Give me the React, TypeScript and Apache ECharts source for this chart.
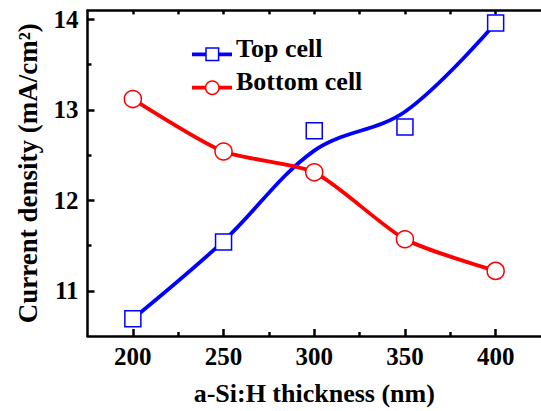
import React, { useEffect, useRef } from "react";
import * as echarts from "echarts";

const thickness = [200, 250, 300, 350, 400];
const topCell = [10.69, 11.54, 12.77, 12.81, 13.96];
const bottomCell = [13.12, 12.54, 12.31, 11.57, 11.22];
const topCellFit = [10.69, 11.55, 12.55, 12.98, 13.96];
const bottomCellFit = [13.12, 12.54, 12.31, 11.57, 11.22];
const xMajorTicks = [200, 250, 300, 350, 400];
const xMinorTicks = [225, 275, 325, 375];
const yMajorTicks = [11, 12, 13, 14];
const yMinorTicks = [11.5, 12.5, 13.5];

const FONT = "'Liberation Serif', 'Times New Roman', serif";
const BLUE = "#0000ff";
const RED = "#ff0000";

export default function App() {
  const ref = useRef<HTMLDivElement>(null);
  useEffect(() => {
    if (!ref.current) return;
    const chart = echarts.init(ref.current, undefined, { renderer: "svg" });
    const pair = (ys: number[]) => thickness.map((x, i) => [x, ys[i]]);
    const axisLine = { show: true, lineStyle: { color: "#000", width: 2.5 } };
    const labelStyle = {
      fontFamily: FONT,
      fontWeight: "bold" as const,
      fontSize: 25,
      color: "#000",
    };
    chart.setOption({
      animation: false,
      grid: { left: 87.5, top: 10.4, width: 454.6, height: 328.2, containLabel: false },
      xAxis: [
        {
          type: "value",
          position: "bottom",
          min: 175,
          max: 425,
          axisLine,
          axisTick: { show: true, inside: true, length: 7, customValues: xMajorTicks, lineStyle: { width: 2.5, color: "#000" } },
          axisLabel: { ...labelStyle, customValues: xMajorTicks, margin: 8 },
          splitLine: { show: false },
          name: "a-Si:H thickness (nm)",
          nameLocation: "middle",
          nameGap: 44,
          nameTextStyle: { ...labelStyle, fontSize: 26 },
        },
        {
          type: "value",
          position: "bottom",
          min: 175,
          max: 425,
          axisLine: { show: false },
          axisTick: { show: true, inside: true, length: 4, customValues: xMinorTicks, lineStyle: { width: 2.5, color: "#000" } },
          axisLabel: { show: false },
          splitLine: { show: false },
        },
        {
          type: "value",
          position: "top",
          min: 175,
          max: 425,
          axisLine,
          axisTick: { show: true, inside: true, length: 4, customValues: [...xMajorTicks, ...xMinorTicks], lineStyle: { width: 2.5, color: "#000" } },
          axisLabel: { show: false },
          splitLine: { show: false },
        },
      ],
      yAxis: [
        {
          type: "value",
          position: "left",
          min: 10.5,
          max: 14.1,
          axisLine,
          axisTick: { show: true, inside: true, length: 7, customValues: yMajorTicks, lineStyle: { width: 2.5, color: "#000" } },
          axisLabel: { ...labelStyle, customValues: yMajorTicks, margin: 9 },
          splitLine: { show: false },
          name: "Current density (mA/cm²)",
          nameLocation: "middle",
          nameGap: 46,
          nameTextStyle: { ...labelStyle, fontSize: 27 },
        },
        {
          type: "value",
          position: "left",
          min: 10.5,
          max: 14.1,
          axisLine: { show: false },
          axisTick: { show: true, inside: true, length: 4, customValues: yMinorTicks, lineStyle: { width: 2.5, color: "#000" } },
          axisLabel: { show: false },
          splitLine: { show: false },
        },
      ],
      series: [
        {
          type: "line",
          data: pair(topCellFit),
          smooth: 0.35,
          showSymbol: false,
          symbol: "none",
          lineStyle: { color: BLUE, width: 3.8 },
          z: 2,
        },
        {
          type: "line",
          data: pair(bottomCellFit),
          smooth: 0.22,
          showSymbol: false,
          symbol: "none",
          lineStyle: { color: RED, width: 3.8 },
          z: 2,
        },
        {
          type: "scatter",
          name: "Top cell",
          data: pair(topCell),
          symbol: "rect",
          symbolSize: 16,
          itemStyle: { color: "#fff", borderColor: BLUE, borderWidth: 1.5, opacity: 1 },
          z: 5,
        },
        {
          type: "scatter",
          name: "Bottom cell",
          data: pair(bottomCell),
          symbol: "circle",
          symbolSize: 17,
          itemStyle: { color: "#fff", borderColor: RED, borderWidth: 1.5, opacity: 1 },
          z: 5,
        },
      ],
      graphic: [
        { type: "line", shape: { x1: 192, y1: 54.3, x2: 232, y2: 54.3 }, style: { stroke: BLUE, lineWidth: 3.8 }, z: 10 },
        { type: "rect", shape: { x: 206, y: 48, width: 12.6, height: 12.6 }, style: { fill: "#fff", stroke: BLUE, lineWidth: 1.5 }, z: 11 },
        { type: "text", x: 236, y: 61, style: { text: "Top cell", ...labelStyle, fontSize: 26, fill: "#000", textVerticalAlign: "bottom" }, z: 11 },
        { type: "line", shape: { x1: 192, y1: 87.7, x2: 232, y2: 87.7 }, style: { stroke: RED, lineWidth: 3.8 }, z: 10 },
        { type: "circle", shape: { cx: 212.3, cy: 87.7, r: 6.7 }, style: { fill: "#fff", stroke: RED, lineWidth: 1.5 }, z: 11 },
        { type: "text", x: 236, y: 94, style: { text: "Bottom cell", ...labelStyle, fontSize: 26, fill: "#000", textVerticalAlign: "bottom" }, z: 11 },
      ],
    });
    return () => chart.dispose();
  }, []);
  return (
    <div
      ref={ref}
      style={{ position: "fixed", left: 0, top: 0, width: 541, height: 411, background: "#fff", overflow: "hidden" }}
    />
  );
}
